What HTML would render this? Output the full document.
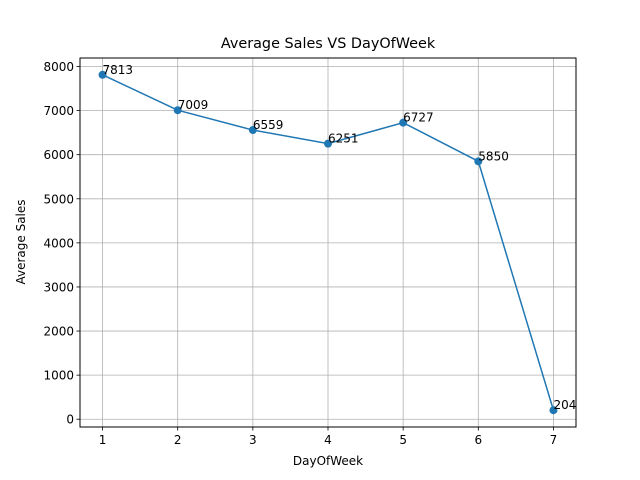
<!DOCTYPE html>
<html><head><meta charset="utf-8"><style>
html,body{margin:0;padding:0;background:#fff;}
svg{display:block;font-family:"DejaVu Sans","Liberation Sans",sans-serif;}
</style></head><body>
<svg id="chart" width="640" height="480" viewBox="0 0 640 480">
<rect x="0" y="0" width="640" height="480" fill="#fff"/>
<text x="328" y="48" font-size="14.4" text-anchor="middle">Average Sales VS DayOfWeek</text>
<text x="328" y="465" font-size="12" text-anchor="middle">DayOfWeek</text>
<text x="25" y="242" font-size="12" text-anchor="middle" transform="rotate(-90 25 242)">Average Sales</text>
<g id="grid"></g><g id="ticks"></g><g id="series"></g>
<rect x="80" y="58" width="496" height="369" fill="none" stroke="#000" stroke-width="1"/>
</svg>
<script>
const days = [1,2,3,4,5,6,7];
const sales = [7813,7009,6559,6251,6727,5850,204];
const labels = ["7813","7009","6559","6251","6727","5850","204"];
const xTicks = [1,2,3,4,5,6,7];
const yTicks = [0,1000,2000,3000,4000,5000,6000,7000,8000];

const L=80,R=576,T=58,B=427;
const xmin=0.7,xmax=7.3;
const dmin=Math.min(...sales),dmax=Math.max(...sales),pad=(dmax-dmin)*0.05;
const ymin=dmin-pad,ymax=dmax+pad;
const xs=v=>L+(v-xmin)/(xmax-xmin)*(R-L);
const ys=v=>B-(v-ymin)/(ymax-ymin)*(B-T);
const NS="http://www.w3.org/2000/svg";
function mk(tag,attrs,parent){const e=document.createElementNS(NS,tag);for(const k in attrs)e.setAttribute(k,attrs[k]);parent.appendChild(e);return e;}
const grid=document.getElementById('grid'),ticks=document.getElementById('ticks'),series=document.getElementById('series');
xTicks.forEach(v=>{
  const x=xs(v);
  const g=mk('line',{x1:x,x2:x,y1:T,y2:B,stroke:'#b0b0b0','stroke-width':0.8},grid);
  
  
  mk('line',{x1:x,x2:x,y1:B,y2:B+3.5,stroke:'#000','stroke-width':0.8},ticks);
  const t=mk('text',{x:x,y:B+17,'font-size':12,'text-anchor':'middle'},ticks);
  t.textContent=v;
  
  
});
yTicks.forEach(v=>{
  const y=ys(v);
  const g=mk('line',{x1:L,x2:R,y1:y,y2:y,stroke:'#b0b0b0','stroke-width':0.8},grid);
  
  
  mk('line',{x1:L-3.5,x2:L,y1:y,y2:y,stroke:'#000','stroke-width':0.8},ticks);
  const t=mk('text',{x:L-6,y:y+4.5,'font-size':12,'text-anchor':'end'},ticks);
  t.textContent=v;
  
  
});
const pts=days.map((d,i)=>xs(d)+','+ys(sales[i])).join(' ');
const line=mk('polyline',{points:pts,fill:'none',stroke:'#1f77b4','stroke-width':1.5},series);


days.forEach((d,i)=>{
  const c=mk('circle',{cx:xs(d),cy:ys(sales[i]),r:4,fill:'#1f77b4'},series);
  
  
  const t=mk('text',{x:xs(d),y:ys(sales[i])-1,'font-size':12},series);
  t.textContent=labels[i];
  
  
});
</script>
</body></html>
